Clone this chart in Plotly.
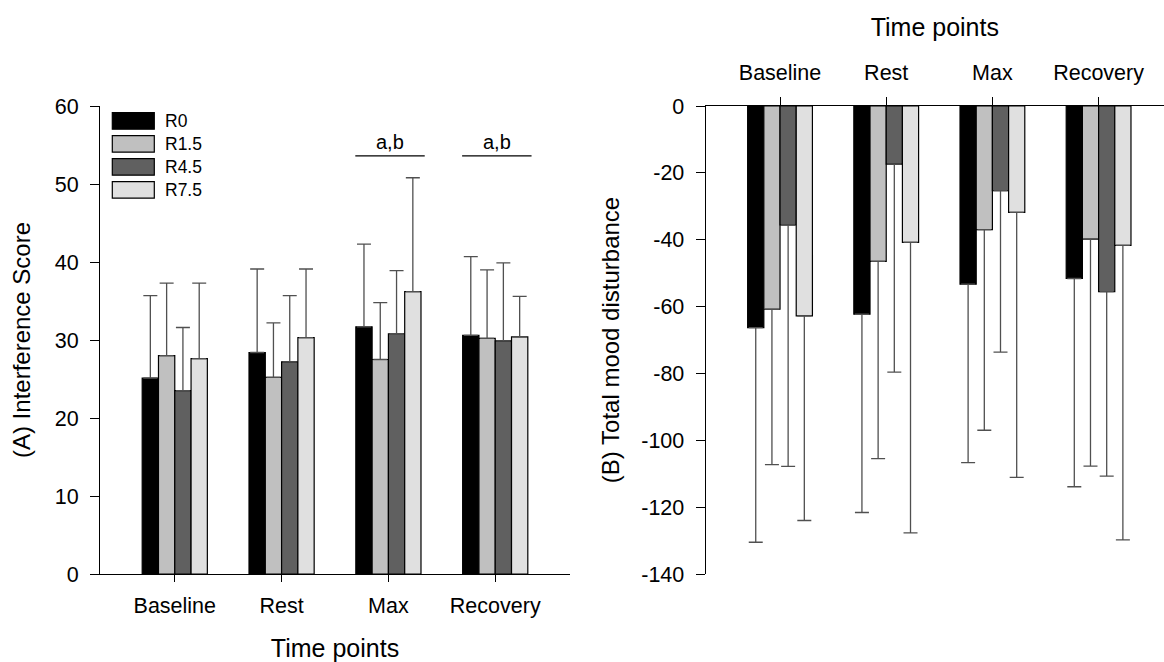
import plotly.graph_objects as go

categories = ["Baseline", "Rest", "Max", "Recovery"]
series = ["R0", "R1.5", "R4.5", "R7.5"]

# Panel A: Interference score (mean, SD)
a_r0 = [25.1, 28.4, 31.7, 30.6]
a_r15 = [28.0, 25.2, 27.5, 30.2]
a_r45 = [23.5, 27.2, 30.8, 29.9]
a_r75 = [27.6, 30.3, 36.2, 30.4]
a_sd_r0 = [10.6, 10.7, 10.6, 10.1]
a_sd_r15 = [9.3, 7.0, 7.3, 8.8]
a_sd_r45 = [8.1, 8.5, 8.1, 10.0]
a_sd_r75 = [9.7, 8.8, 14.6, 5.2]

# Panel B: Total mood disturbance (mean, SD)
b_r0 = [-66.3, -62.3, -53.3, -51.6]
b_r15 = [-60.8, -46.5, -37.0, -39.8]
b_r45 = [-35.6, -17.4, -25.3, -55.5]
b_r75 = [-62.8, -40.8, -31.8, -41.7]
b_sd_r0 = [64.2, 59.3, 53.4, 62.3]
b_sd_r15 = [46.5, 59.0, 60.0, 67.9]
b_sd_r45 = [72.2, 62.2, 48.3, 55.2]
b_sd_r75 = [61.2, 86.9, 79.3, 88.1]

# significance markers (panel A)
sig_categories = ["Max", "Recovery"]
sig_labels = ["a,b", "a,b"]
sig_y = 53.6

a_ticks = [0, 10, 20, 30, 40, 50, 60]
b_ticks = [0, -20, -40, -60, -80, -100, -120, -140]
b_ticklabels = ["0", "-20", "-40", "-60", "-80", "-100", "-120", "-140"]

colors = ["#000000", "#c0c0c0", "#606060", "#e0e0e0"]
FONT = "Arial, Liberation Sans, sans-serif"
W, H = 1164, 662
ML, MR, MT, MB = 100, 0, 106, 88

a_means = [a_r0, a_r15, a_r45, a_r75]
a_sds = [a_sd_r0, a_sd_r15, a_sd_r45, a_sd_r75]
b_means = [b_r0, b_r15, b_r45, b_r75]
b_sds = [b_sd_r0, b_sd_r15, b_sd_r45, b_sd_r75]

fig = go.Figure()
err_col = "#505050"
for name, col, m, sd in zip(series, colors, a_means, a_sds):
    fig.add_trace(go.Bar(
        x=categories, y=m, name=name, xaxis="x", yaxis="y",
        marker=dict(color=col, line=dict(color="#000000", width=1.2)),
        error_y=dict(type="data", symmetric=False, array=sd, arrayminus=[0] * len(sd),
                     color=err_col, thickness=1.3, width=7),
        showlegend=False,
    ))
for name, col, m, sd in zip(series, colors, b_means, b_sds):
    fig.add_trace(go.Bar(
        x=categories, y=m, name=name, xaxis="x2", yaxis="y2",
        marker=dict(color=col, line=dict(color="#000000", width=1.2)),
        error_y=dict(type="data", symmetric=False, array=[0] * len(sd), arrayminus=sd,
                     color=err_col, thickness=1.3, width=7),
        showlegend=False,
    ))

pw = W - ML - MR
ph = H - MT - MB
left_dom = [0, (570 - ML) / pw]
right_dom = [(705.7 - ML) / pw, 1]

tickfont = dict(family=FONT, size=21.5, color="#000")
axis_common = dict(showline=True, linecolor="#000", linewidth=1.2, ticks="outside",
                   tickcolor="#000", tickwidth=1.2, showgrid=False, zeroline=False,
                   tickfont=tickfont)

fig.update_layout(
    width=W, height=H,
    margin=dict(l=ML, r=MR, t=MT, b=MB),
    paper_bgcolor="white", plot_bgcolor="white",
    barmode="group", bargap=0.39, bargroupgap=0,
    font=dict(family=FONT, color="#000"),
    xaxis=dict(domain=left_dom, anchor="y", type="category", range=[-0.7, 3.7],
               categoryorder="array", categoryarray=categories, ticklen=7,
               ticklabelstandoff=5,
               title=dict(text="Time points", font=dict(family=FONT, size=25), standoff=28),
               **axis_common),
    yaxis=dict(domain=[0, 1], anchor="x", range=[0, 60], tickvals=a_ticks, ticklen=9,
               ticklabelstandoff=7,
               title=dict(text="(A) Interference Score", font=dict(family=FONT, size=24), standoff=17),
               **axis_common),
    xaxis2=dict(domain=right_dom, anchor="y2", side="top", type="category",
                range=[-0.7, 3.616], categoryorder="array", categoryarray=categories,
                ticklen=8, ticklabelstandoff=8,
                title=dict(text="Time points", font=dict(family=FONT, size=25), standoff=17),
                **axis_common),
    yaxis2=dict(domain=[0, 1], anchor="x2", range=[-140, 0], tickvals=b_ticks,
                ticktext=b_ticklabels, ticklen=9, ticklabelstandoff=7,
                title=dict(text="(B) Total mood disturbance", font=dict(family=FONT, size=24), standoff=14),
                **axis_common),
)

# significance lines and labels
for c, lab in zip(sig_categories, sig_labels):
    i = categories.index(c)
    fig.add_shape(type="line", xref="x", yref="y", x0=i - 0.31, x1=i + 0.34,
                  y0=sig_y, y1=sig_y, line=dict(color="#000", width=1.2))
    fig.add_annotation(x=i + 0.015, y=sig_y, xref="x", yref="y", text=lab, showarrow=False,
                       yanchor="bottom", yshift=1, font=dict(family=FONT, size=20, color="#000"))

# custom legend (panel A); paper coords are relative to the plotting area
def px2x(p):
    return (p - ML) / pw

def px2y(p):
    return (H - MB - p) / ph

for k, (name, col) in enumerate(zip(series, colors)):
    top = 112.7 + 23 * k
    fig.add_shape(type="rect", xref="paper", yref="paper",
                  x0=px2x(112.3), x1=px2x(154.3), y0=px2y(top + 16.5), y1=px2y(top),
                  fillcolor=col, line=dict(color="#000", width=1.2))
    fig.add_annotation(xref="paper", yref="paper", x=px2x(163), y=px2y(top + 8.5),
                       text=name, showarrow=False, xanchor="left", yanchor="middle",
                       font=dict(family=FONT, size=17.5, color="#000"))

fig.write_html("out.html", config={"displayModeBar": False},
               post_script="document.body.style.margin='0px';")
